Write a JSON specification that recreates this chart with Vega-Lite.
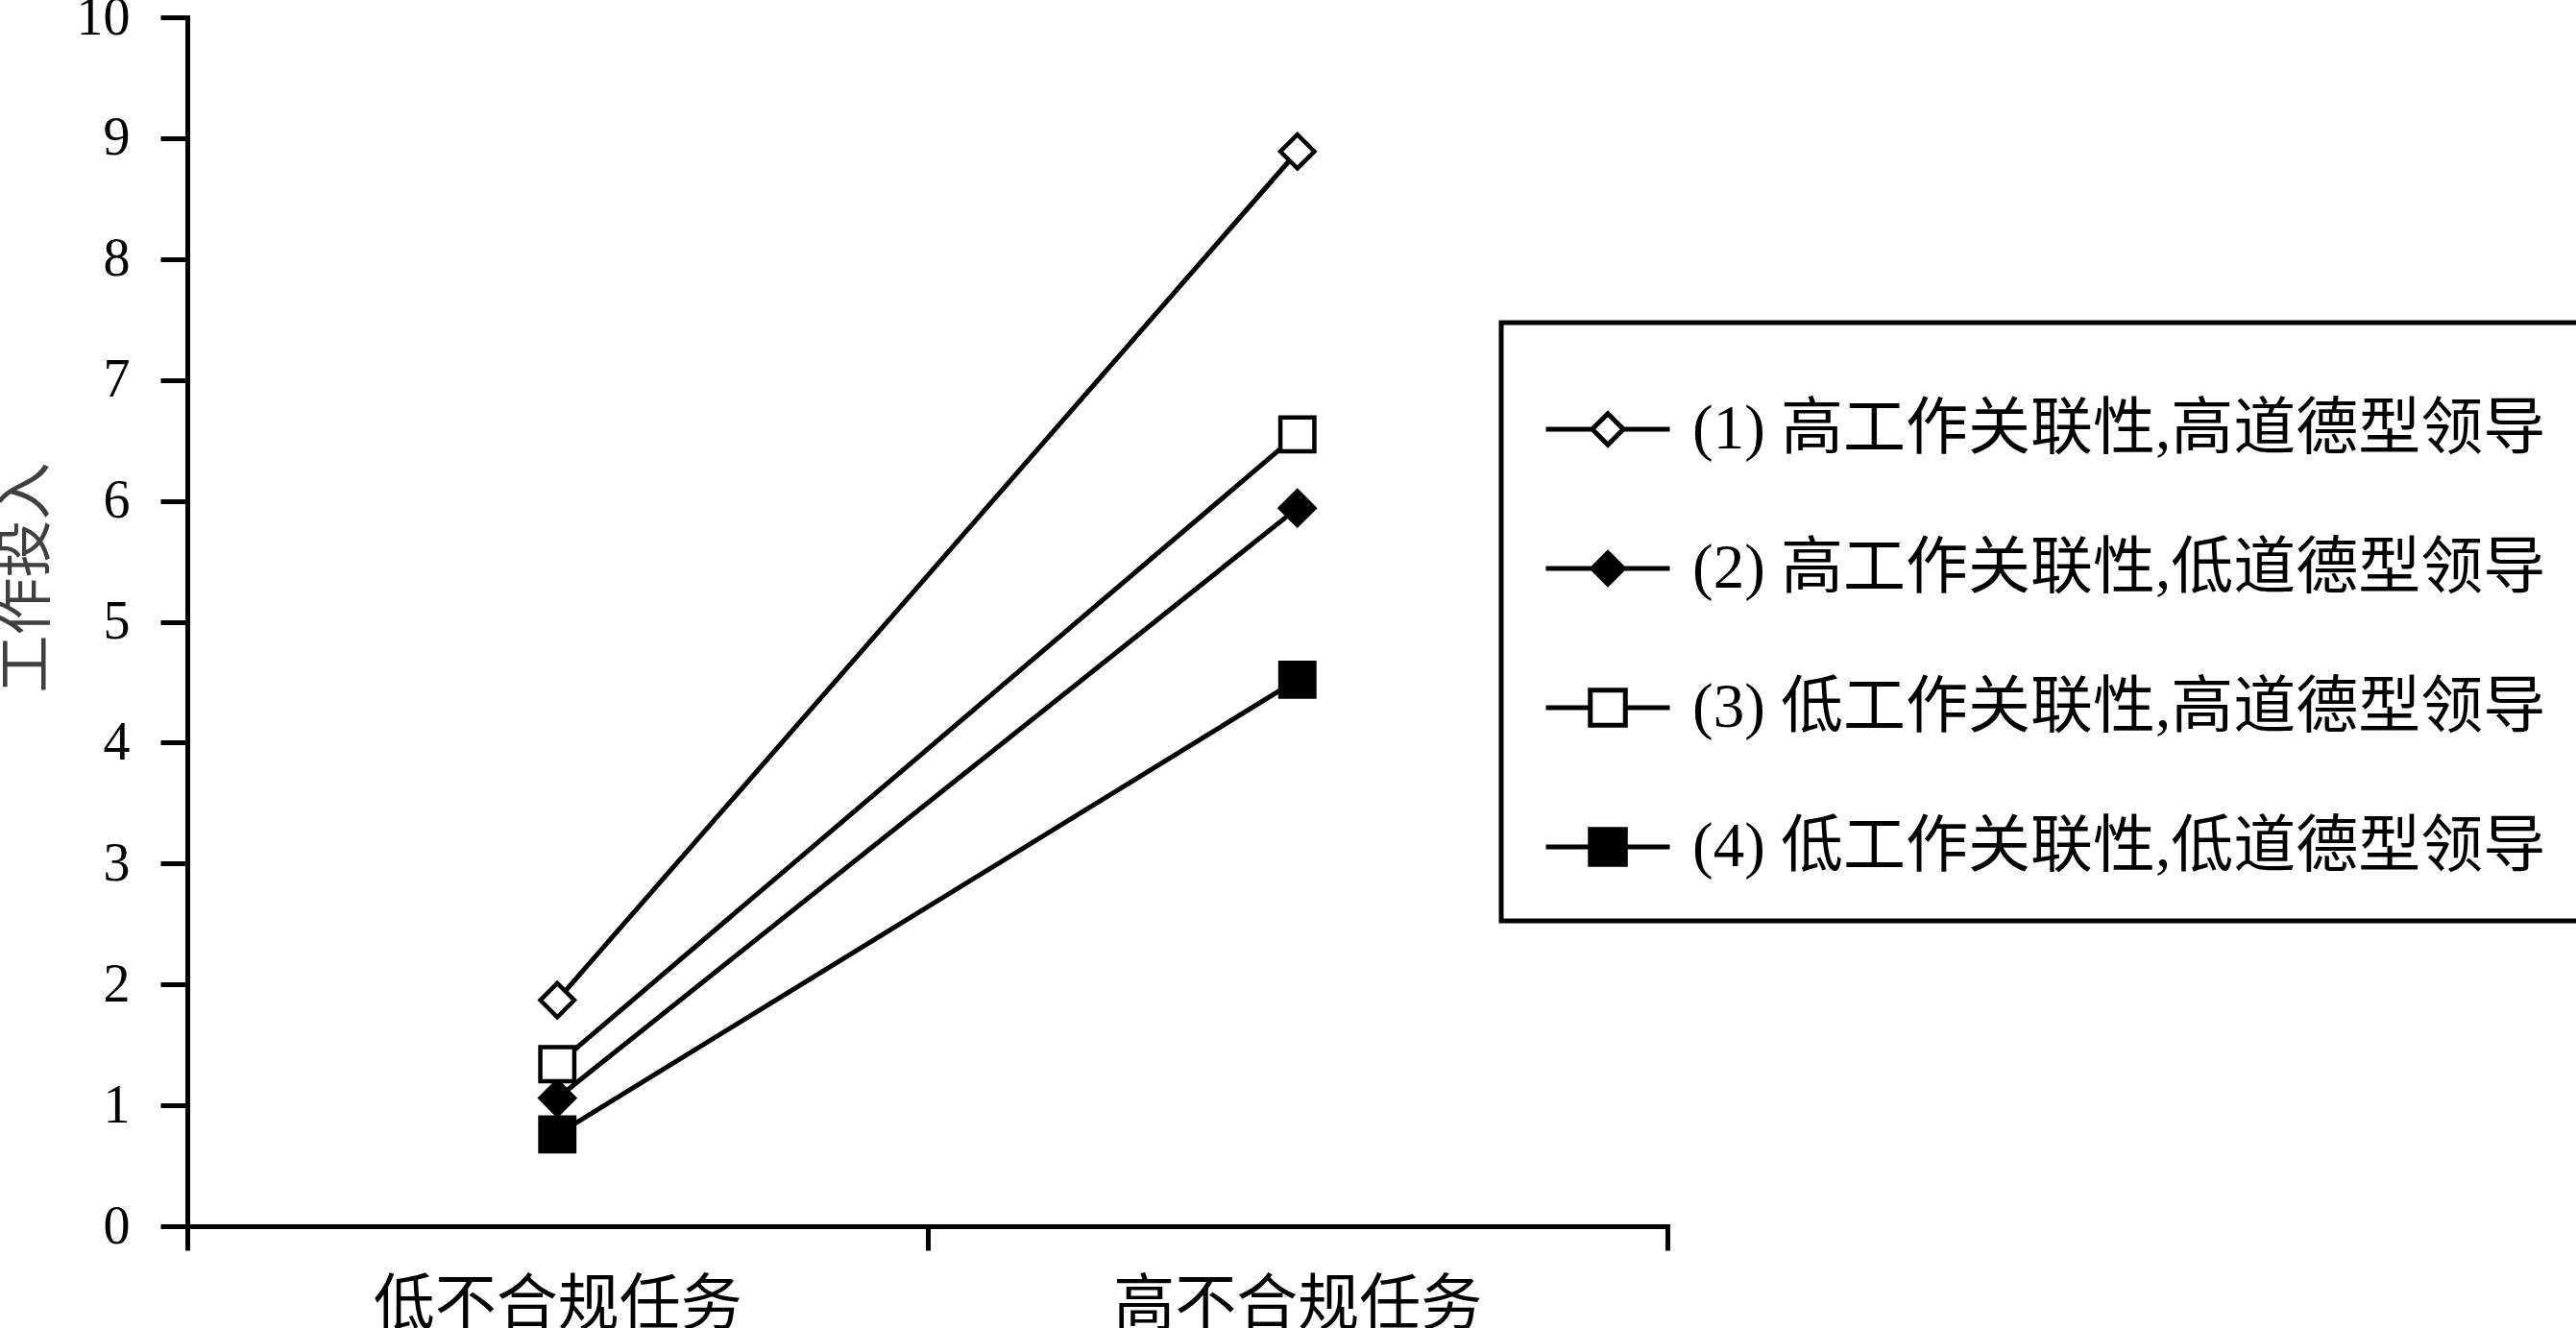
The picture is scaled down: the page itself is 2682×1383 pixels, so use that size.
{
  "$schema": "https://vega.github.io/schema/vega-lite/v6.json",
  "width": 1541,
  "height": 1259,
  "autosize": {"type": "none"},
  "padding": {"left": 195, "top": 18, "right": 946, "bottom": 106},
  "background": "white",
  "config": {"view": {"stroke": null}, "font": "Liberation Serif", "legend": {"strokeWidth": 5, "strokeColor": "black"}},
  "data": {
    "values": [
      {"series": "(1) 高工作关联性,高道德型领导", "task": "低不合规任务", "value": 1.87},
      {"series": "(1) 高工作关联性,高道德型领导", "task": "高不合规任务", "value": 8.89},
      {"series": "(2) 高工作关联性,低道德型领导", "task": "低不合规任务", "value": 1.06},
      {"series": "(2) 高工作关联性,低道德型领导", "task": "高不合规任务", "value": 5.94},
      {"series": "(3) 低工作关联性,高道德型领导", "task": "低不合规任务", "value": 1.34},
      {"series": "(3) 低工作关联性,高道德型领导", "task": "高不合规任务", "value": 6.55},
      {"series": "(4) 低工作关联性,低道德型领导", "task": "低不合规任务", "value": 0.76},
      {"series": "(4) 低工作关联性,低道德型领导", "task": "高不合规任务", "value": 4.52}
    ]
  },
  "encoding": {
    "x": {
      "field": "task",
      "type": "nominal",
      "sort": ["低不合规任务", "高不合规任务"],
      "scale": {"type": "band", "paddingInner": 0, "paddingOuter": 0},
      "axis": {
        "title": null,
        "tickBand": "extent",
        "labelAngle": 0,
        "labelFont": "Noto Sans CJK SC",
        "labelFontSize": 64,
        "labelColor": "black",
        "labelPadding": 25,
        "labelLimit": 1000,
        "tickSize": 25,
        "tickWidth": 5,
        "tickColor": "black",
        "domainWidth": 5,
        "domainColor": "black",
        "domainCap": "square",
        "grid": false
      }
    },
    "y": {
      "field": "value",
      "type": "quantitative",
      "scale": {"domain": [0, 10], "nice": false},
      "axis": {
        "title": "工作投入",
        "values": [0, 1, 2, 3, 4, 5, 6, 7, 8, 9, 10],
        "grid": false,
        "tickSize": 28,
        "tickWidth": 5,
        "tickColor": "black",
        "domainWidth": 5,
        "domainColor": "black",
        "domainCap": "square",
        "labelFont": "Liberation Serif",
        "labelFontSize": 56,
        "labelColor": "black",
        "labelPadding": 32,
        "titleFont": "Noto Sans CJK SC",
        "titleFontSize": 60,
        "titleFontWeight": "normal",
        "titleColor": "#404040",
        "titleAngle": 270,
        "titleAlign": "center",
        "titleBaseline": "middle",
        "titleX": -167,
        "titleY": 583
      }
    }
  },
  "layer": [
    {
      "mark": {"type": "line", "color": "black", "strokeWidth": 5},
      "encoding": {"detail": {"field": "series", "type": "nominal"}}
    },
    {
      "transform": [{"filter": {"field": "series", "equal": "(1) 高工作关联性,高道德型领导"}}],
      "mark": {"type": "point", "shape": "diamond", "filled": true, "fill": "white", "stroke": "black", "strokeWidth": 4.5, "size": 1250, "opacity": 1}
    },
    {
      "transform": [{"filter": {"field": "series", "equal": "(2) 高工作关联性,低道德型领导"}}],
      "mark": {"type": "point", "shape": "diamond", "filled": true, "fill": "black", "stroke": "black", "strokeWidth": 4.5, "size": 1250, "opacity": 1}
    },
    {
      "transform": [{"filter": {"field": "series", "equal": "(3) 低工作关联性,高道德型领导"}}],
      "mark": {"type": "point", "shape": "square", "filled": true, "fill": "white", "stroke": "black", "strokeWidth": 4.5, "size": 1250, "opacity": 1}
    },
    {
      "transform": [{"filter": {"field": "series", "equal": "(4) 低工作关联性,低道德型领导"}}],
      "mark": {"type": "point", "shape": "square", "filled": true, "fill": "black", "stroke": "black", "strokeWidth": 4.5, "size": 1250, "opacity": 1}
    },
    {
      "transform": [{"filter": {"field": "value", "lt": 0}}],
      "mark": {"type": "point", "filled": true, "strokeWidth": 5, "opacity": 1},
      "encoding": {
        "shape": {
          "field": "series",
          "type": "nominal",
          "scale": {
            "domain": ["(1) 高工作关联性,高道德型领导", "(2) 高工作关联性,低道德型领导", "(3) 低工作关联性,高道德型领导", "(4) 低工作关联性,低道德型领导"],
            "range": [
              "M-1,0H-0.252M0.252,0H1M-0.252,0L0,-0.252L0.252,0L0,0.252Z",
              "M-1,0H-0.252M0.252,0H1M-0.252,0L0,-0.252L0.252,0L0,0.252Z",
              "M-1,0H-0.283M0.283,0H1M-0.283,-0.283H0.283V0.283H-0.283Z",
              "M-1,0H-0.283M0.283,0H1M-0.283,-0.283H0.283V0.283H-0.283Z"
            ]
          },
          "legend": {
            "title": null,
            "orient": "none",
            "legendX": 1368,
            "legendY": 318,
            "direction": "vertical",
            "padding": 44,
            "strokeColor": "black",
            "fillColor": "white",
            "symbolSize": 16641,
            "symbolStrokeWidth": 5,
            "symbolOpacity": 1,
            "labelFont": "Liberation Serif, Noto Sans CJK SC",
            "labelFontSize": 65,
            "labelColor": "black",
            "labelOffset": 21,
            "rowPadding": 45,
            "labelLimit": 2000
          }
        },
        "fill": {
          "field": "series",
          "type": "nominal",
          "scale": {
            "domain": ["(1) 高工作关联性,高道德型领导", "(2) 高工作关联性,低道德型领导", "(3) 低工作关联性,高道德型领导", "(4) 低工作关联性,低道德型领导"],
            "range": ["white", "black", "white", "black"]
          },
          "legend": {
            "title": null,
            "orient": "none",
            "legendX": 1368,
            "legendY": 318,
            "direction": "vertical",
            "padding": 44,
            "strokeColor": "black",
            "fillColor": "white",
            "symbolSize": 16641,
            "symbolStrokeWidth": 5,
            "symbolOpacity": 1,
            "labelFont": "Liberation Serif, Noto Sans CJK SC",
            "labelFontSize": 65,
            "labelColor": "black",
            "labelOffset": 21,
            "rowPadding": 45,
            "labelLimit": 2000
          }
        },
        "stroke": {
          "field": "series",
          "type": "nominal",
          "scale": {
            "domain": ["(1) 高工作关联性,高道德型领导", "(2) 高工作关联性,低道德型领导", "(3) 低工作关联性,高道德型领导", "(4) 低工作关联性,低道德型领导"],
            "range": ["black", "black", "black", "black"]
          },
          "legend": {
            "title": null,
            "orient": "none",
            "legendX": 1368,
            "legendY": 318,
            "direction": "vertical",
            "padding": 44,
            "strokeColor": "black",
            "fillColor": "white",
            "symbolSize": 16641,
            "symbolStrokeWidth": 5,
            "symbolOpacity": 1,
            "labelFont": "Liberation Serif, Noto Sans CJK SC",
            "labelFontSize": 65,
            "labelColor": "black",
            "labelOffset": 21,
            "rowPadding": 45,
            "labelLimit": 2000
          }
        }
      }
    }
  ]
}
